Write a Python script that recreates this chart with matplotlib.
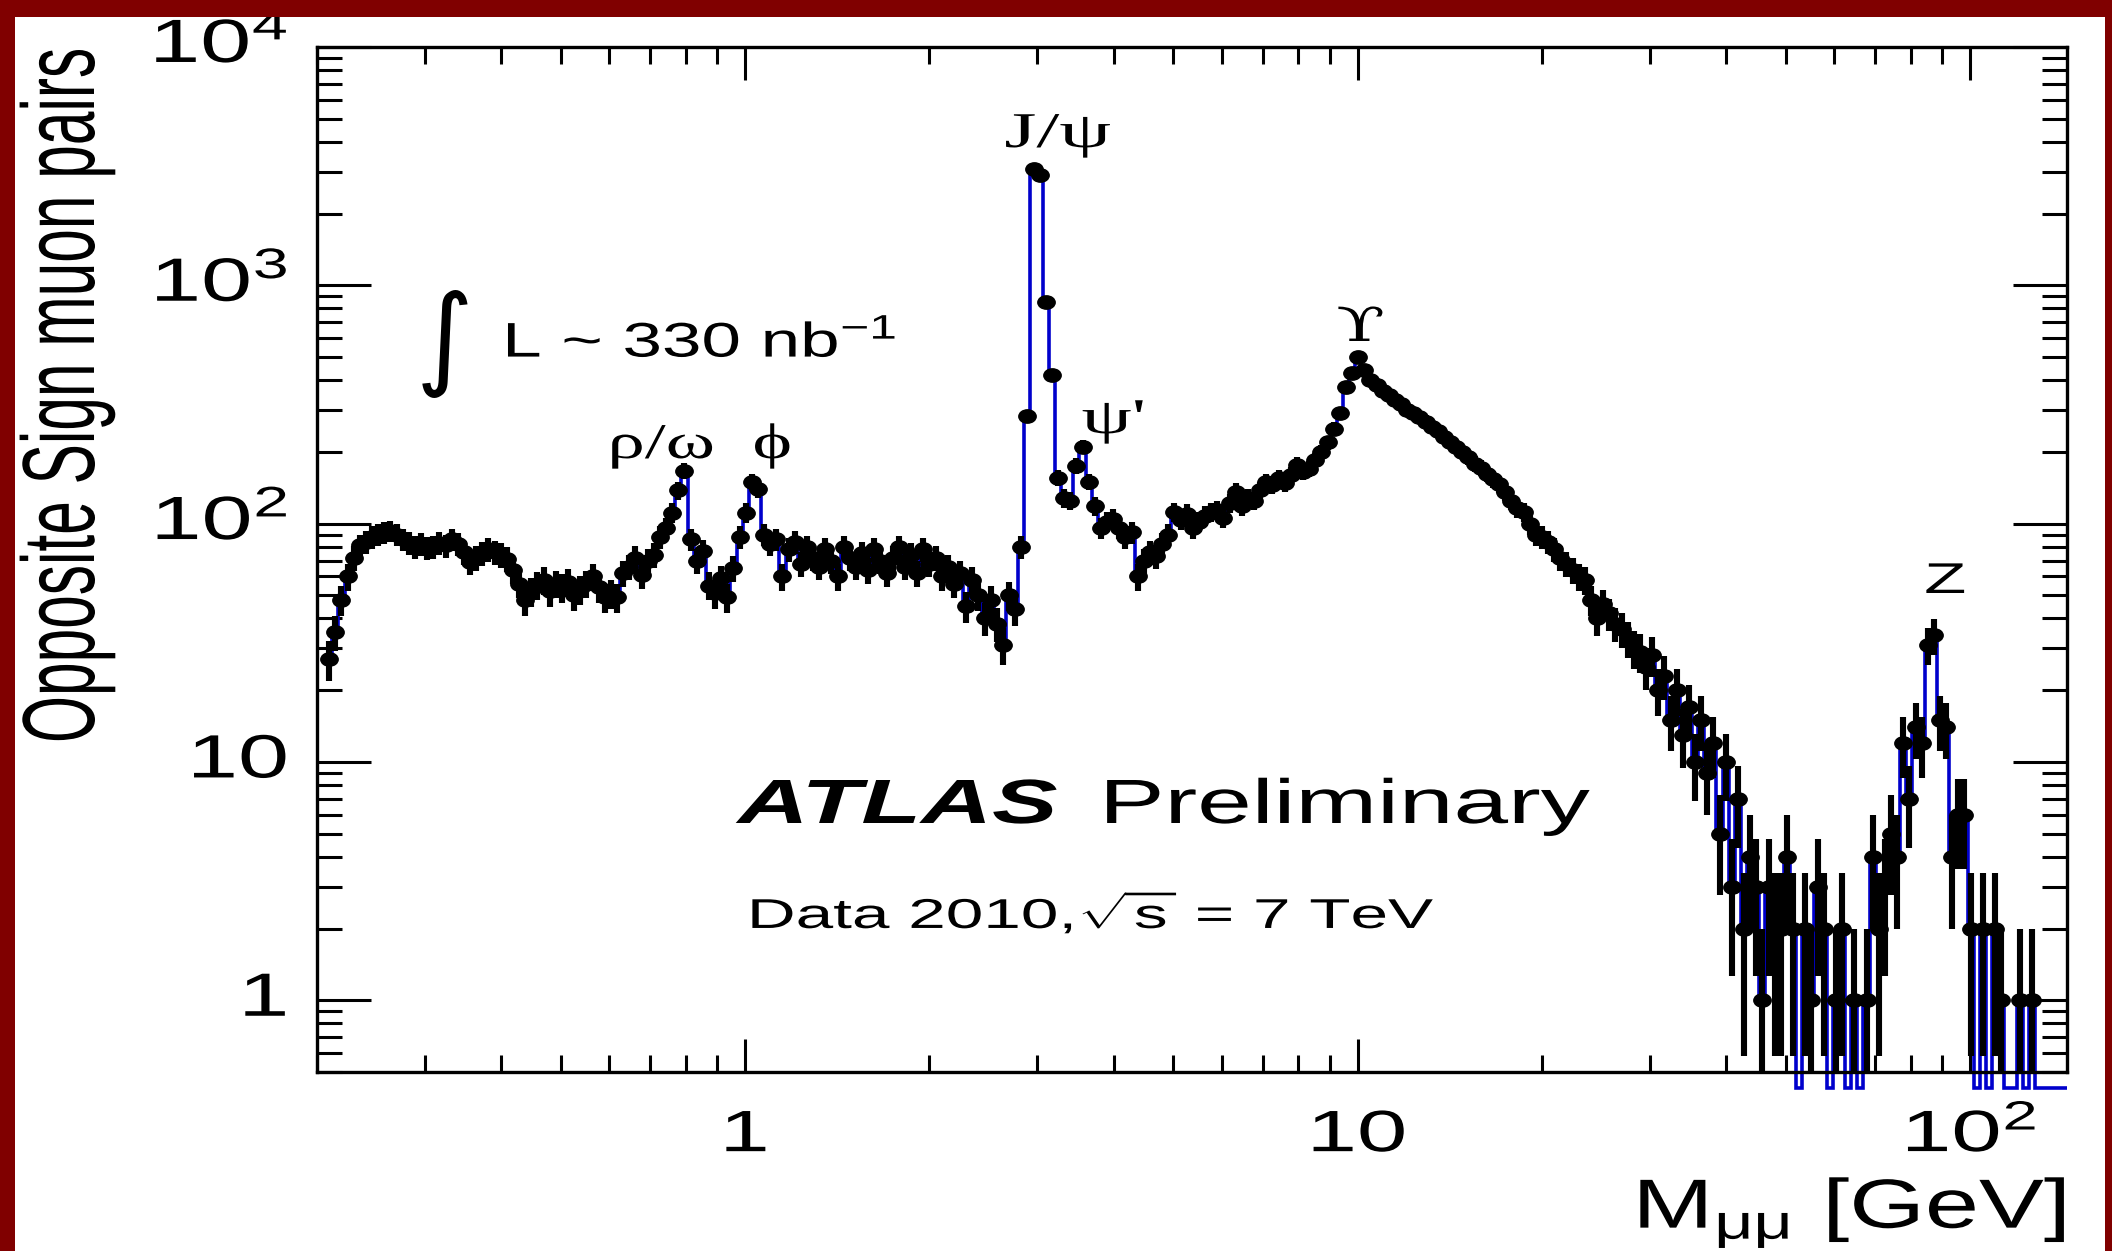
import numpy as np
import matplotlib
matplotlib.use("Agg")
import matplotlib.pyplot as plt
from matplotlib.patches import Rectangle
from matplotlib.path import Path
from matplotlib.patheffects import AbstractPathEffect
from matplotlib.ticker import LogLocator, NullFormatter
from matplotlib.transforms import Affine2D

plt.rcParams['font.family'] = 'Liberation Sans'
plt.rcParams['mathtext.fontset'] = 'custom'
plt.rcParams['mathtext.rm'] = 'Liberation Sans'
plt.rcParams['mathtext.it'] = 'Liberation Sans:italic'
plt.rcParams['mathtext.bf'] = 'Liberation Sans:bold'

# dimuon mass histogram, log bins of 0.01 decades starting at 0.207 GeV
first_edge_log = -0.684
bin_dex = 0.01

low_mass = [27, 35, 48, 60, 72, 81, 84, 88, 90, 92,
            93, 90, 86, 83, 80, 82, 79, 80, 83, 81,
            86, 82, 76, 69, 72, 75, 78, 76, 74, 71,
            64, 56, 48, 52]
rho_omega_phi = [55, 58, 52, 56, 54, 57, 50, 53, 56, 60,
                 54, 49, 51, 49, 62, 66, 72, 61, 70, 74,
                 88, 96, 111, 138, 167, 86, 70, 77, 55, 51,
                 59, 49, 65, 88]
continuum = [111, 150, 140, 90, 82, 86, 60, 78, 84, 68,
             80, 72, 66, 78, 70, 60, 80, 72, 66, 75,
             64, 78, 70, 62, 72, 80, 66, 74, 62, 78,
             68, 72, 60, 66, 56, 62, 45, 58, 50, 40,
             48, 38, 31, 50, 44, 80]
charmonium = [284, 3076, 2900, 849, 420, 156, 128, 125, 175, 210,
              150, 118, 96, 102, 105, 96, 88, 92, 60, 70,
              76, 73, 82, 90]
upsilon_rise = [112, 104, 110, 96, 102, 108, 112, 114, 106, 122,
                136, 118, 128, 125, 138, 150, 145, 155, 148, 160,
                177, 165, 170, 185, 200, 219, 250]
drell_yan = [290, 376, 430, 498, 440, 400, 380, 360, 345, 330,
             318, 300, 290, 280, 268, 255, 245, 232, 220, 210,
             200, 190, 178, 172, 162, 154, 146, 136, 125, 116,
             112, 100, 90, 88, 84, 78, 72, 68, 64, 60,
             58, 48, 40, 46, 42, 38, 36, 33, 30, 29,
             25, 28, 20, 23, 15, 20, 13, 17, 10, 15,
             9, 12, 5, 10, 3, 7, 2, 4]
z_region = [3, 1, 3, 2, 2, 4, 2, 0, 2, 1,
            3, 2, 0, 1, 2, 0, 1, 0, 1, 4,
            2, 3, 5, 4, 12, 7, 14, 12, 31, 34,
            15, 14, 4, 6, 6, 2, 0, 2, 0, 2,
            1, 0, 0, 1, 0, 1, 0, 0, 0, 0,
            0, 0]

counts = np.array(low_mass + rho_omega_phi + continuum + charmonium + upsilon_rise
                  + drell_yan + z_region, dtype=float)
edges = 10 ** (first_edge_log + bin_dex * np.arange(len(counts) + 1))
centers = np.sqrt(edges[:-1] * edges[1:])

y_ticks = [1, 10, 100, 1000, 10000]
y_tick_labels = ['1', '10', '$10^{2}$', '$10^{3}$', '$10^{4}$']
x_ticks = [1, 10, 100]
x_tick_labels = ['1', '10', '$10^{2}$']

W, H = 2112, 1251
FLOOR = 0.43  # empty bins are drawn just under the frame


class Stretch(AbstractPathEffect):
    """Scale text glyphs sideways (sx) and in height (sy)."""

    def __init__(self, sx=1.0, sy=1.0, anchor='left'):
        super().__init__()
        self.sx, self.sy, self.anchor = sx, sy, anchor

    def draw_path(self, renderer, gc, tpath, affine, rgbFace=None):
        ext = tpath.get_extents()
        x0 = {'left': ext.x0, 'center': 0.5 * (ext.x0 + ext.x1), 'right': ext.x1}[self.anchor]
        t = Affine2D().translate(-x0, 0).scale(self.sx, self.sy).translate(x0, 0)
        renderer.draw_path(gc, tpath, t + affine, rgbFace)


def put(x, y, s, size, sx=1.6, sy=1.0, ha='left', **kw):
    return fig.text(x / W, 1 - y / H, s, fontsize=size, ha=ha, va='baseline',
                    path_effects=[Stretch(sx, sy, ha)], **kw)


fig = plt.figure(figsize=(W / 100, H / 100), dpi=100)
ax = fig.add_axes([317 / W, 1 - 1072 / H, (2067 - 317) / W, (1072 - 47) / H])
ax.set_xscale('log')
ax.set_yscale('log')
ax.set_xlim(0.2, 144)
ax.set_ylim(0.5, 1e4)

# histogram outline
clip = Rectangle((0, -0.02), 1, 1.02, transform=ax.transAxes, facecolor='none', edgecolor='none')
st = ax.stairs(np.where(counts > 0, counts, FLOOR), edges, baseline=None,
               color='#0000cc', lw=2.6, zorder=2)
st.set_clip_path(clip)

# data points with poisson errors, slightly wide round markers
oval = Affine2D().scale(1.3, 1.0).transform_path(Path.unit_circle())
m = counts > 0
n = counts[m]
err = np.sqrt(n)
lo = n - np.maximum(n - err, 1e-3)
ax.errorbar(centers[m], n, xerr=[centers[m] - edges[:-1][m], edges[1:][m] - centers[m]],
            fmt='none', ecolor='black', elinewidth=2.0, zorder=3)
ax.errorbar(centers[m], n, yerr=[lo, err], fmt='none', ecolor='black',
            elinewidth=4.4, capsize=0, zorder=4)
ax.plot(centers[m], n, ls='none', marker=oval, ms=12.5, color='black', zorder=5)

for sp in ax.spines.values():
    sp.set_linewidth(2.4)

ax.yaxis.set_minor_locator(LogLocator(base=10, subs=np.arange(2, 10)))
ax.xaxis.set_minor_locator(LogLocator(base=10, subs=np.arange(2, 10)))
ax.xaxis.set_minor_formatter(NullFormatter())
ax.yaxis.set_minor_formatter(NullFormatter())
ax.set_yticks(y_ticks, labels=y_tick_labels)
ax.set_xticks(x_ticks, labels=x_tick_labels)
ax.tick_params(which='both', direction='in', top=True, right=True, width=2.2, colors='black')
ax.tick_params(axis='y', which='major', length=39, pad=21, labelsize=44)
ax.tick_params(axis='y', which='minor', length=18)
ax.tick_params(axis='x', which='major', length=24, pad=57, labelsize=42)
ax.tick_params(axis='x', which='minor', length=12)
for lbl in ax.get_yticklabels():
    lbl.set_va('center')
    lbl.set_path_effects([Stretch(1.5, 1.0, 'right')])
for lbl in ax.get_xticklabels():
    lbl.set_va('baseline')
    lbl.set_path_effects([Stretch(1.55, 1.0, 'center')])

# axis titles
fig.text(94 / W, 1 - 743 / H, 'Opposite Sign muon pairs', fontsize=43.5, rotation=90,
         rotation_mode='anchor', ha='left', va='baseline', path_effects=[Stretch(1.0, 1.7)])
put(2066, 1228, r'M$_{\mathrm{\mu\mu}}$ [GeV]', 50, sx=1.4, ha='right')

# resonance labels
serif = ['Liberation Serif', 'DejaVu Serif']
put(609, 458, 'ρ/ω  ϕ', 36, sx=1.5, family=serif)
put(1005, 147, 'J/ψ', 36, sx=1.65, family=serif)
put(1082, 433, "ψ'", 36, sx=1.6, family=serif)
put(1337, 341, 'ϒ', 34, sx=1.5, family=['DejaVu Serif'])
put(1925, 593, 'Z', 31, sx=1.6)

# luminosity and experiment labels
fig.text(445 / W, 1 - 344 / H, '∫', fontsize=80, family='DejaVu Sans', ha='center', va='center')
put(504, 357, 'L ~ 330 nb$^{-1}$', 35, sx=1.46)
put(737, 823, 'ATLAS', 45, sx=1.57, weight='bold', style='italic')
put(1102, 823, 'Preliminary', 45, sx=1.57)
put(749, 928, r'Data 2010,$\sqrt{\mathrm{s}}$ = 7 TeV', 30, sx=1.62)

# dark red frame
red = '#800000'
for x0, y0, w, h in [(0, 1251 - 17, 2112, 17), (0, 0, 15, 1251), (2105, 0, 7, 1251)]:
    fig.patches.append(Rectangle((x0 / W, y0 / H), w / W, h / H, transform=fig.transFigure,
                                 facecolor=red, edgecolor='none', zorder=10))

fig.savefig('out.png', dpi=100)
